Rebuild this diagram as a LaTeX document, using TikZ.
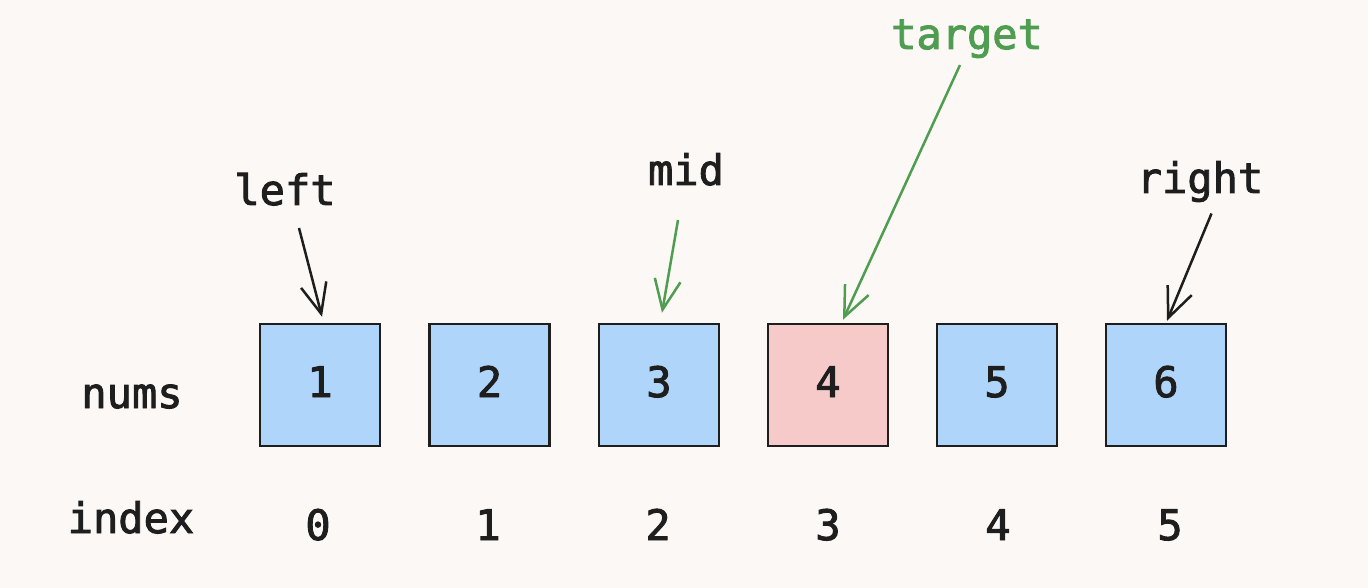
\documentclass[tikz,border=0pt]{standalone}
\usepackage{fontspec}
\setmainfont[FakeBold=2.2]{DejaVu Sans Mono}
\usetikzlibrary{arrows.meta,calc}
\definecolor{bg}{HTML}{FCF8F5}
\definecolor{cellblue}{HTML}{AFD6FA}
\definecolor{cellred}{HTML}{F7CACA}
\definecolor{ink}{HTML}{1E1E1E}
\definecolor{grn}{HTML}{4F9D50}
\begin{document}
\begin{tikzpicture}[x=1pt,y=-1pt,
  txt/.style={font=\fontsize{42}{42}\selectfont, text=ink, anchor=base, inner sep=0pt},
  cell/.style={draw=ink, line width=2.5pt, minimum width=120pt, minimum height=122pt, inner sep=0pt, fill=cellblue},
  ptr/.style={draw=ink, line width=2.5pt, -{Straight Barb[length=30pt,width=26pt]}},
  gptr/.style={ptr, draw=grn}]
\fill[bg] (0,0) rectangle (1368,588);
\useasboundingbox (0,0) rectangle (1368,588);

% cells
\node[cell] (b1) at (320,385) {};
\node[cell] (b2) at (489.5,385) {};
\node[cell] (b3) at (659,385) {};
\node[cell, fill=cellred] (b4) at (828,385) {};
\node[cell] (b5) at (997,385) {};
\node[cell] (b6) at (1166,385) {};

% values
\node[txt] (v1) at (320,397) {1};
\node[txt] (v2) at (489.5,397) {2};
\node[txt] (v3) at (659,397) {3};
\node[txt] (v4) at (828,397) {4};
\node[txt] (v5) at (997,397) {5};
\node[txt] (v6) at (1166,397) {6};

% row labels
\node[txt] (nums) at (132,408) {nums};
\node[txt] (index) at (131,533) {index};

% indices
\node[txt] (i0) at (318,540) {0};
\node[txt] (i1) at (488,540) {1};
\node[txt] (i2) at (658,540) {2};
\node[txt] (i3) at (828,540) {3};
\node[txt] (i4) at (998,540) {4};
\node[txt] (i5) at (1170,540) {5};

% pointer labels
\node[txt] (left) at (285,205) {left};
\node[txt] (mid) at (686,185) {mid};
\node[txt, text=grn] (target) at (967,49) {target};
\node[txt] (right) at (1200,193) {right};

% arrow start points
\coordinate (ls) at (299,228);
\coordinate (ms) at (678,220);
\coordinate (ts) at (960,65);
\coordinate (rs) at (1211.5,213.5);

\draw[ptr] (ls) -- ($(b1.north)+(2,-6)$);
\draw[gptr] (ms) -- ($(b3.north)+(3,-10)$);
\draw[gptr] (ts) -- ($(b4.north)+(15,-3)$);
\draw[ptr] (rs) -- ($(b6.north)+(1,-2)$);
\end{tikzpicture}
\end{document}
